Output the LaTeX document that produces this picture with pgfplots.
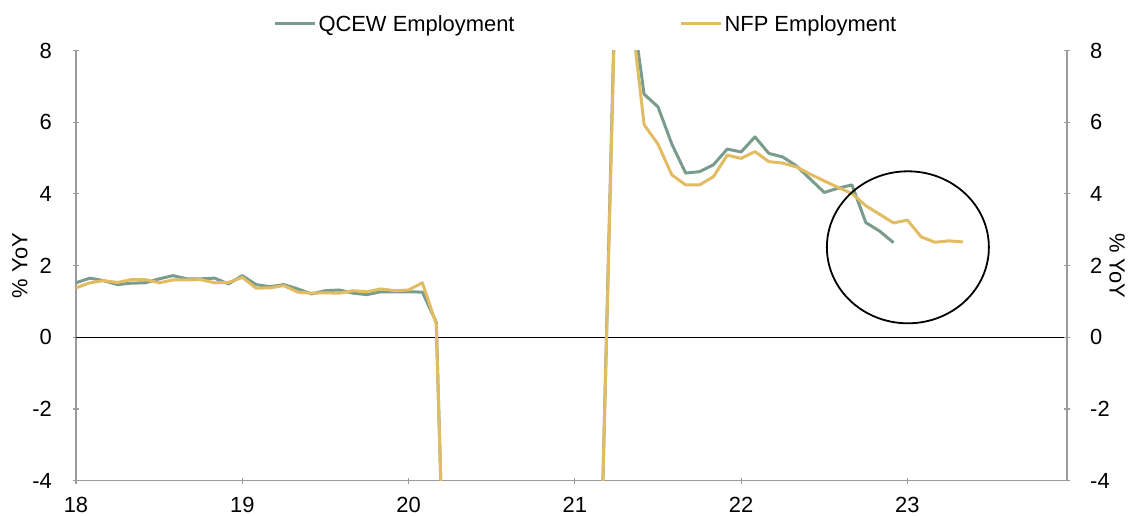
\documentclass[border=0pt]{standalone}
\usepackage{fontspec}
\setmainfont{Liberation Sans}
\usepackage{pgfplots}
\usepackage{pgfplotstable}
\pgfplotsset{compat=1.18}
\definecolor{qcew}{HTML}{7A9C8C}
\definecolor{nfp}{HTML}{E2BC62}
\definecolor{axisgray}{HTML}{9B9B9B}

\pgfplotstableread{
t v
0 1.52
1 1.65
2 1.58
3 1.47
4 1.51
5 1.52
6 1.63
7 1.72
8 1.63
9 1.63
10 1.65
11 1.49
12 1.72
13 1.47
14 1.41
15 1.47
16 1.35
17 1.21
18 1.30
19 1.32
20 1.23
21 1.19
22 1.27
23 1.27
24 1.27
25 1.26
26 0.42
27 -13.2
28 -11.5
29 -9.0
30 -7.8
31 -6.7
32 -6.4
33 -5.9
34 -6.1
35 -6.2
36 -6.1
37 -5.7
38 -4.4
39 11.2
40 9.6
41 6.78
42 6.43
43 5.39
44 4.58
45 4.62
46 4.81
47 5.25
48 5.17
49 5.59
50 5.13
51 5.03
52 4.78
53 4.41
54 4.04
55 4.16
56 4.25
57 3.20
58 2.96
59 2.64
}\qcewdata

\pgfplotstableread{
t v
0 1.38
1 1.52
2 1.58
3 1.53
4 1.61
5 1.61
6 1.52
7 1.60
8 1.60
9 1.61
10 1.52
11 1.53
12 1.67
13 1.37
14 1.38
15 1.44
16 1.26
17 1.23
18 1.24
19 1.23
20 1.30
21 1.27
22 1.35
23 1.30
24 1.32
25 1.52
26 0.37
27 -13.0
28 -11.3
29 -8.9
30 -7.6
31 -6.5
32 -6.4
33 -5.8
34 -6.0
35 -6.1
36 -6.0
37 -5.6
38 -4.4
39 10.8
40 9.3
41 5.93
42 5.39
43 4.53
44 4.25
45 4.25
46 4.48
47 5.08
48 4.99
49 5.18
50 4.90
51 4.86
52 4.75
53 4.55
54 4.36
55 4.18
56 4.01
57 3.67
58 3.43
59 3.19
60 3.27
61 2.80
62 2.65
63 2.69
64 2.66
}\nfpdata

\newcommand{\bigfont}{\fontsize{22}{26}\selectfont}

\pgfplotsset{
  common/.style={
    scale only axis, width=991bp, height=430.2bp,
    xmin=18, xmax=23.96, ymin=-4, ymax=8,
    ytick={-4,-2,0,2,4,6,8},
    tick align=inside,
    major tick length=6bp,
    tick style={draw=axisgray, line width=1.2bp},
    axis line style={-, draw=axisgray, line width=1.4bp},
    ticklabel style={font=\bigfont, inner sep=0pt},
    label style={font=\bigfont, inner sep=0pt},
    /pgf/number format/assume math mode=true,
  }
}

\begin{document}
\begin{tikzpicture}
\begin{axis}[
  common,
  name=ax,
  axis x line=bottom, axis y line=left,
  x axis line style={-}, y axis line style={-},
  xtick={18,19,20,21,22,23},
  yticklabel shift=21bp,
  xticklabel shift=13bp,
  ylabel={\% YoY},
  ylabel style={at={(axis description cs:-0.0565,0.5)}, anchor=center, rotate=0, font=\bigfont},
  legend columns=2,
  legend style={draw=none, fill=none, inner sep=0pt, outer sep=0pt,
    at={(axis description cs:0.1993,1.0616)}, anchor=west,
    font=\bigfont,
    nodes={inner sep=2bp},
    /tikz/every even column/.append style={column sep=163bp}},
  legend image code/.code={\draw[#1] (0bp,0bp) -- (40bp,0bp);},
  legend cell align=left,
]
\draw[black, line width=1bp] (axis cs:18,0) -- (axis cs:23.96,0);
\addplot[qcew, line width=3bp, line join=round] table[x expr={18+\thisrow{t}/12}, y=v] {\qcewdata};
\addlegendentry{QCEW Employment}
\addplot[nfp, line width=3bp, line join=round] table[x expr={18+\thisrow{t}/12}, y=v] {\nfpdata};
\addlegendentry{NFP Employment}
\draw[black, line width=1.8bp] (axis cs:23.003,2.51) ellipse [x radius=81bp, y radius=76bp];
\end{axis}
\begin{axis}[
  common,
  axis x line=none, axis y line=right,
  y axis line style={-},
  yticklabel shift=20bp,
  ylabel={\% YoY},
  ylabel style={at={(axis description cs:1.0505,0.5)}, anchor=center, rotate=180, font=\bigfont},
]
\end{axis}
\path[use as bounding box] ([xshift=-76bp,yshift=-35.3bp]ax.south west) rectangle ([xshift=62bp,yshift=50.5bp]ax.north east);
\end{tikzpicture}
\end{document}
